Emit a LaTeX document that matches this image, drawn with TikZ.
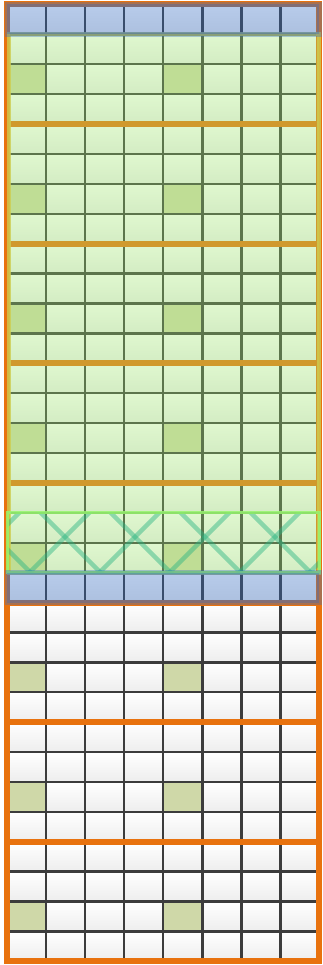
\documentclass[tikz,border=0pt]{standalone}
\usepackage{xcolor}
\usepackage{tikz}
\definecolor{gridgray}{RGB}{60,60,60}
\definecolor{markolive}{RGB}{207,216,168}
\definecolor{tileorange}{RGB}{232,114,14}
\definecolor{haloblue}{RGB}{52,109,198}
\definecolor{coregreen}{RGB}{160,234,111}
\definecolor{coreyellow}{RGB}{205,205,80}
\definecolor{bandgreen}{RGB}{150,245,110}
\definecolor{hatchteal}{RGB}{40,180,130}
\tikzset{
  cellbox/.style={draw=gridgray, line width=2.4pt, top color=white,
    bottom color=black!7},
  markbox/.style={draw=gridgray, line width=2.4pt, fill=markolive},
  tilebox/.style={draw=tileorange, line width=6pt},
  halobox/.style={fill=haloblue, fill opacity=0.35, draw=haloblue,
    draw opacity=0.35, line width=5pt},
  corebox/.style={fill=coregreen, fill opacity=0.33, draw=coreyellow,
    draw opacity=0.8, line width=4pt},
  bandbox/.style={draw=bandgreen, draw opacity=0.85, line width=3pt},
  hatchline/.style={draw=hatchteal, draw opacity=0.45, line width=4.5pt},
}

\begin{document}
\begin{tikzpicture}[x=39.06pt, y=-29.9pt]
  \useasboundingbox (-7pt,4.5pt) rectangle (316pt,-960.5pt);

  %% cells
  \foreach \r in {0,...,31}
    \foreach \c in {0,...,7}
      \path[cellbox] (\c,\r) rectangle ++(1,1);

  %% marked cells
  \foreach \r in {2,6,...,30}
    \foreach \c in {0,4}
      \path[markbox] (\c,\r) rectangle ++(1,1);

  %% tiles of four rows
  \foreach \t in {0,...,7}
    \draw[tilebox] (0,4*\t) rectangle (8,4*\t+4);

  %% core region
  \path[corebox] ([xshift=2pt]0,1) rectangle (8,19);

  %% hatched band
  \begin{scope}
    \clip (0,17) rectangle (8,19);
    \begin{scope}[shift={(-7pt,4.5pt)}, x=1pt, y=-1pt]
      \foreach \k in {-542,-472,...,-192}
        \draw[hatchline] (\k+500,500) -- (\k+590,590);
      \foreach \k in {532,602,...,882}
        \draw[hatchline] (\k-500,500) -- (\k-590,590);
    \end{scope}
  \end{scope}
  \path[bandbox] (0,17) rectangle (8,19);

  %% halo rows
  \path[halobox] (0,0) rectangle (8,1);
  \path[halobox] (0,19) rectangle (8,20);

\end{tikzpicture}
\end{document}
